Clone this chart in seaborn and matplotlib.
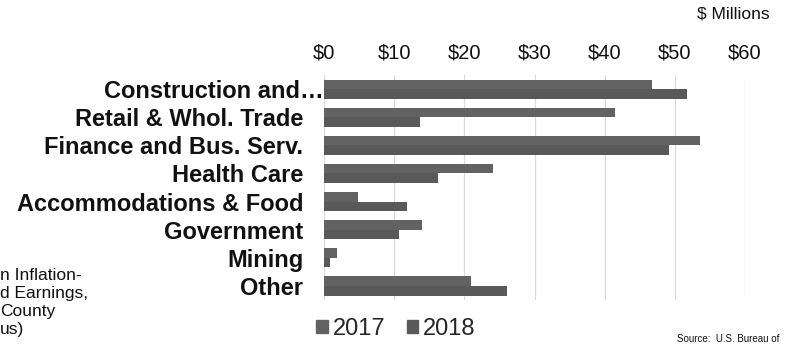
import pandas as pd
import matplotlib.pyplot as plt
import seaborn as sns
from matplotlib.ticker import FuncFormatter
from matplotlib.patches import Patch
from matplotlib.transforms import ScaledTranslation

# data ($ millions)
sectors = ['Construction and\u2026', 'Retail & Whol. Trade', 'Finance and Bus. Serv.',
           'Health Care', 'Accommodations & Food', 'Government', 'Mining', 'Other']
vals_2017 = [46.8, 41.5, 53.6, 24.1, 4.9, 14.0, 1.8, 20.9]
vals_2018 = [51.8, 13.7, 49.2, 16.2, 11.8, 10.7, 0.85, 26.1]
years = ['2017', '2018']

df = pd.DataFrame({
    'Sector': sectors * 2,
    'Value': vals_2017 + vals_2018,
    'Year': [years[0]] * len(sectors) + [years[1]] * len(sectors),
})

sns.set_theme(style="white")
plt.rcParams['font.family'] = ['Liberation Sans', 'DejaVu Sans']

fig = plt.figure(figsize=(7.95, 3.48), dpi=100)
ax = fig.add_axes([324 / 795, 1 - 300 / 348, (745 - 324) / 795, 225 / 348])

sns.barplot(data=df, y='Sector', x='Value', hue='Year', orient='h',
            palette={'2017': '#626262', '2018': '#595959'},
            width=0.68, saturation=1, ax=ax, legend=False, linewidth=0)

ax.set_xlim(0, 60)
ax.set_ylim(7.5, -0.5)
ax.set_xticks(range(0, 61, 10))
ax.xaxis.set_major_formatter(FuncFormatter(lambda v, p: f'${v:.0f}'))
ax.xaxis.tick_top()
ax.tick_params(axis='x', length=0, pad=9, labelsize=14.5, colors='#111111')
ax.tick_params(axis='y', length=0, pad=15)
for lab in ax.get_yticklabels():
    lab.set_fontsize(17)
    lab.set_fontweight('bold')
    lab.set_color('#111111')
# the long first label runs right up to the axis
first = ax.get_yticklabels()[0]
first.set_transform(first.get_transform() + ScaledTranslation(15 / 72, 0, fig.dpi_scale_trans))
ax.set_xlabel('')
ax.set_ylabel('')
ax.grid(axis='x', color='#d9d9d9', linewidth=0.8)
ax.set_axisbelow(True)
for s in ax.spines.values():
    s.set_visible(False)

# legend below plot
handles = [Patch(color='#626262'), Patch(color='#595959')]
fig.legend(handles, years, loc='center', bbox_to_anchor=(396 / 795, 1 - 329 / 348),
           ncol=2, frameon=False, fontsize=17, handlelength=0.5, handleheight=0.5,
           handletextpad=0.2, columnspacing=0.9)

fig.text(733 / 795, 1 - 14 / 348, '$ Millions', ha='center', va='center', fontsize=12.5, color='#111111')
fig.text(677 / 795, 1 - 339 / 348, 'Source:  U.S. Bureau of', ha='left', va='center', fontsize=7, color='#111111')

side_lines = ['n Inflation-', 'd Earnings,', 'County', 'us)']
for i, t in enumerate(side_lines):
    fig.text(0, 1 - (275 + 18.3 * i) / 348, t, ha='left', va='center', fontsize=12.5, color='#111111')

plt.savefig('out.png', dpi=100)
